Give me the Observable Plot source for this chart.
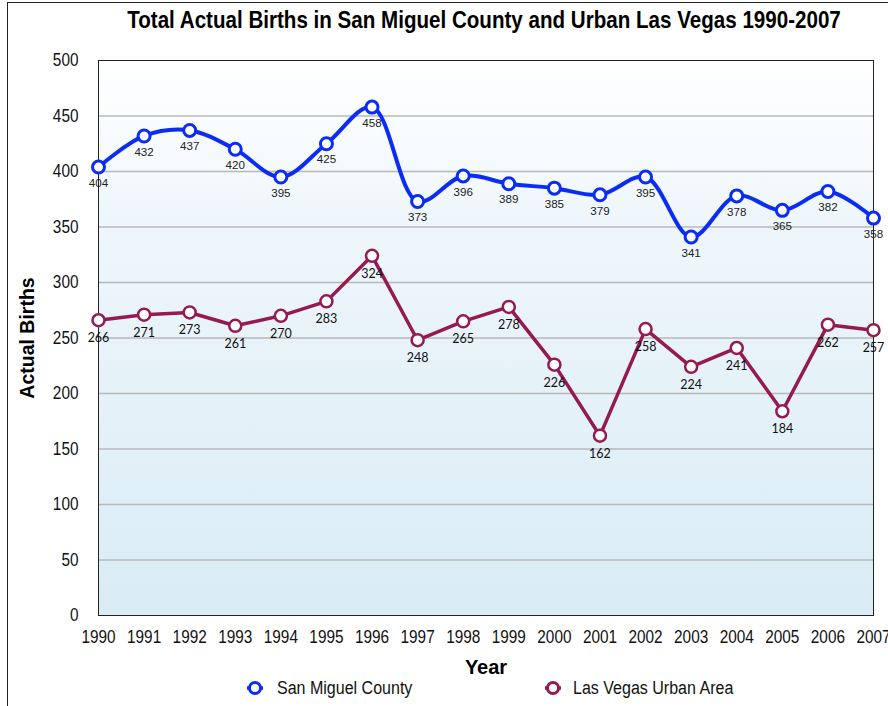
<!DOCTYPE html>
<html>
<head>
<meta charset="utf-8">
<script src="https://cdn.jsdelivr.net/npm/d3@7"></script>
<script src="https://cdn.jsdelivr.net/npm/@observablehq/plot@0.6"></script>
<style>
  body { margin: 0; background: #fff; }
  #wrap { position: relative; width: 888px; height: 706px; overflow: hidden; font-family: "Liberation Sans", Arial, sans-serif; }
  #border { position: absolute; left: 7px; top: 2px; width: 1000px; height: 1000px; border: 1.5px solid #222; }
  #title { position: absolute; left: 0; top: 6px; width: 968px; text-align: center; font-weight: bold; font-size: 24.5px; color: #000; transform: scaleX(0.84); transform-origin: 484px 50%; white-space: nowrap; }
  #chart { position: absolute; left: 0; top: 42px; }
  #legend { position: absolute; top: 676px; left: 0; width: 888px; height: 24px; font-size: 18px; color: #111; }
  .mk { position: absolute; top: 2px; }
  .lt { position: absolute; top: 0; line-height: 24px; white-space: nowrap; transform: scaleX(0.89); transform-origin: 0 50%; }
</style>
</head>
<body>
<div id="wrap">
  <div id="border"></div>
  <div id="title"></div>
  <div id="chart"></div>
  <div id="legend"></div>
</div>
<script>
const years = [1990,1991,1992,1993,1994,1995,1996,1997,1998,1999,2000,2001,2002,2003,2004,2005,2006,2007];
const sanMiguel = [404,432,437,420,395,425,458,373,396,389,385,379,395,341,378,365,382,358];
const lasVegas = [266,271,273,261,270,283,324,248,265,278,226,162,258,224,241,184,262,257];
const yTicks = [0,50,100,150,200,250,300,350,400,450,500];
const seriesNames = ["San Miguel County", "Las Vegas Urban Area"];
const seriesColors = ["#0a2cf5", "#951a52"];
const titleText = "Total Actual Births in San Miguel County and Urban Las Vegas 1990-2007";

document.getElementById("title").textContent = titleText;

const sm = years.map((y, i) => ({year: y, value: sanMiguel[i]}));
const lv = years.map((y, i) => ({year: y, value: lasVegas[i]}));

const chart = Plot.plot({
  width: 888,
  height: 664,
  marginLeft: 98,
  marginRight: 15,
  marginTop: 18,
  marginBottom: 91,
  style: {fontFamily: "'Liberation Sans', Arial, sans-serif", background: "transparent", overflow: "visible"},
  x: {domain: [1990, 2007]},
  y: {domain: [0, 500]},
  marks: [
    Plot.frame({fill: "url(#bgGrad)", stroke: null}),
    Plot.gridY(yTicks.filter(d => d > 0 && d < 500), {stroke: "#b8b8b8", strokeOpacity: 1, strokeWidth: 1.5}),
    Plot.frame({stroke: "#222", strokeWidth: 1}),
    Plot.axisY({ticks: yTicks, tickSize: 0, tickPadding: 20, fontSize: 18.5, fill: "#111", label: null}),
    Plot.axisX({ticks: years, tickFormat: d => String(d), tickSize: 0, tickPadding: 14, fontSize: 18.5, fill: "#111", label: null}),
    Plot.text(["Year"], {frameAnchor: "bottom", dy: 58, fontSize: 20, fontWeight: "bold", fill: "#000", ariaLabel: "xtitle"}),
    Plot.text(["Actual Births"], {frameAnchor: "left", textAnchor: "middle", dx: -71, rotate: -90, fontSize: 19.5, fontWeight: "bold", fill: "#000", ariaLabel: "ytitle"}),
    Plot.line(sm, {x: "year", y: "value", stroke: seriesColors[0], strokeWidth: 4, curve: "catmull-rom"}),
    Plot.line(lv, {x: "year", y: "value", stroke: seriesColors[1], strokeWidth: 3.5}),
    Plot.dot(sm, {x: "year", y: "value", r: 6, fill: "white", stroke: seriesColors[0], strokeWidth: 3}),
    Plot.dot(lv, {x: "year", y: "value", r: 6, fill: "white", stroke: seriesColors[1], strokeWidth: 2.5}),
    Plot.text(sm, {x: "year", y: "value", text: d => String(d.value), dy: 16, fontSize: 11.6, fill: "#222", ariaLabel: "smlab"}),
    Plot.text(lv, {x: "year", y: "value", text: d => String(d.value), dy: 18, fontSize: 12.5, fill: "#111", fontFamily: "Lato, sans-serif", ariaLabel: "lvlab"})
  ]
});

const ns = "http://www.w3.org/2000/svg";
const defs = document.createElementNS(ns, "defs");
defs.innerHTML = `<linearGradient id="bgGrad" x1="0" y1="0" x2="0" y2="1">
  <stop offset="0" stop-color="#ffffff"/>
  <stop offset="0.3" stop-color="#eef6fb"/>
  <stop offset="1" stop-color="#d9ecf5"/>
</linearGradient>`;
chart.insertBefore(defs, chart.firstChild);
document.getElementById("chart").appendChild(chart);

// condense texts to mimic a narrow typeface
function condense(label, factor) {
  chart.querySelectorAll(`g[aria-label="${label}"] text`).forEach(t => {
    const len = t.getComputedTextLength();
    if (len > 0) {
      t.setAttribute("textLength", (len * factor).toFixed(2));
      t.setAttribute("lengthAdjust", "spacingAndGlyphs");
    }
  });
}
condense("x-axis tick label", 0.83);
condense("y-axis tick label", 0.83);
condense("xtitle", 0.86);
condense("ytitle", 0.91);
condense("smlab", 0.86);

// legend
const legend = document.getElementById("legend");
const markerX = [245, 543];
const textX = [277, 573];
seriesNames.forEach((name, i) => {
  const mk = document.createElement("div");
  mk.className = "mk";
  mk.style.left = markerX[i] + "px";
  mk.innerHTML = `<svg width="20" height="20"><line x1="2" y1="10" x2="18" y2="10" stroke="${seriesColors[i]}" stroke-width="3.5"/><circle cx="10" cy="10" r="5.5" fill="white" stroke="${seriesColors[i]}" stroke-width="3"/></svg>`;
  legend.appendChild(mk);
  const lt = document.createElement("div");
  lt.className = "lt";
  lt.style.left = textX[i] + "px";
  lt.textContent = name;
  legend.appendChild(lt);
});
</script>
</body>
</html>
